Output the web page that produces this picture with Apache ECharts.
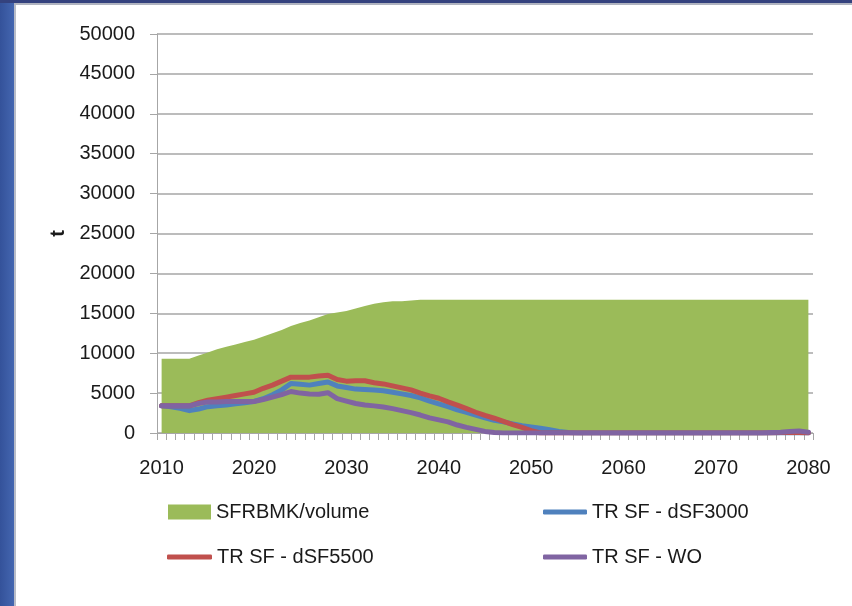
<!DOCTYPE html>
<html>
<head>
<meta charset="utf-8">
<script src="https://cdn.jsdelivr.net/npm/echarts@6/dist/echarts.min.js"></script>
<style>
  html, body { margin: 0; padding: 0; background: #ffffff; }
  #chart { width: 852px; height: 606px; }
</style>
</head>
<body>
<div id="chart"></div>
<script>
// Years on the category axis
const years = [];
for (let y = 2010; y <= 2080; y++) years.push(String(y));

// Stored spent fuel volume (t)
const sfrbmkVolume = [
  9300, 9300, 9300, 9300, 9700, 10100, 10500, 10800, 11100, 11400,
  11700, 12100, 12500, 12900, 13400, 13800, 14100, 14500, 14900, 15100,
  15300, 15600, 15900, 16200, 16400, 16500, 16500, 16600, 16700, 16700,
  16700, 16700, 16700, 16700, 16700, 16700, 16700, 16700, 16700, 16700,
  16700, 16700, 16700, 16700, 16700, 16700, 16700, 16700, 16700, 16700,
  16700, 16700, 16700, 16700, 16700, 16700, 16700, 16700, 16700, 16700,
  16700, 16700, 16700, 16700, 16700, 16700, 16700, 16700, 16700, 16700,
  16700
];

// TR SF - dSF3000
const trDsf3000 = [
  3400, 3300, 3100, 2800, 3000, 3300, 3400, 3500, 3650, 3800,
  3950, 4300, 4800, 5400, 6200, 6100, 6000, 6200, 6400, 5900,
  5700, 5500, 5450, 5400, 5300, 5100, 4900, 4700, 4400, 4000,
  3650, 3300, 2900, 2600, 2250, 1900, 1600, 1400, 1150, 900,
  750, 600, 400, 200, 50, 0, 0, 0, 0, 0,
  0, 0, 0, 0, 0, 0, 0, 0, 0, 0,
  0, 0, 0, 0, 0, 0, 0, 0, 0, 0,
  0
];

// TR SF - dSF5500
const trDsf5500 = [
  3400, 3400, 3400, 3400, 3800, 4100, 4300, 4500, 4700, 4900,
  5100, 5600, 6000, 6500, 7000, 7000, 7000, 7150, 7250, 6700,
  6500, 6550, 6550, 6300, 6150, 5900, 5650, 5400, 5000, 4650,
  4350, 3900, 3500, 3050, 2600, 2200, 1850, 1450, 1050, 700,
  300, 0, 0, 0, 0, 0, 0, 0, 0, 0,
  0, 0, 0, 0, 0, 0, 0, 0, 0, 0,
  0, 0, 0, 0, 0, 0, 0, 50, 50, 50,
  0
];

// TR SF - WO
const trWo = [
  3400, 3400, 3400, 3400, 3700, 3900, 3900, 3950, 3950, 3950,
  3950, 4200, 4500, 4800, 5200, 5000, 4900, 4850, 5050, 4300,
  4000, 3700, 3500, 3400, 3250, 3050, 2800, 2550, 2250, 1900,
  1650, 1400, 1000, 700, 450, 200, 50, 0, 0, 0,
  0, 0, 0, 0, 0, 0, 0, 0, 0, 0,
  0, 0, 0, 0, 0, 0, 0, 0, 0, 0,
  0, 0, 0, 0, 0, 0, 50, 100, 200, 250,
  100
];

// Value axis ticks
const yMin = 0, yMax = 50000, yStep = 5000;

const FONT = '"Liberation Sans", Arial, sans-serif';
const TEXT = '#1a1a1a';
const GRID = '#a6a6a6';
const FS = 20;

const chart = echarts.init(document.getElementById('chart'), null, { renderer: 'canvas' });

const legendText = { fontFamily: FONT, fontSize: FS, color: TEXT };

chart.setOption({
  animation: false,
  backgroundColor: '#ffffff',
  graphic: [
    // slide frame: blue strip on the left and bar along the top
    { type: 'rect', shape: { x: 0, y: 0, width: 14, height: 606 },
      style: { fill: new echarts.graphic.LinearGradient(0, 0, 1, 0, [
        { offset: 0, color: '#34529a' }, { offset: 1, color: '#4466b0' }]) }, z: 10 },
    { type: 'rect', shape: { x: 14, y: 0, width: 2, height: 606 }, style: { fill: '#b8bcc8' }, z: 10 },
    { type: 'rect', shape: { x: 0, y: 0, width: 852, height: 3 }, style: { fill: '#34427e' }, z: 10 },
    { type: 'rect', shape: { x: 14, y: 3, width: 838, height: 2 }, style: { fill: '#b0b4c0' }, z: 10 }
  ],
  grid: { left: 157, right: 39, top: 34, bottom: 173, containLabel: false },
  legend: [
    { data: [{ name: 'SFRBMK/volume', icon: 'rect' }], left: 168, top: 502,
      itemWidth: 43, itemHeight: 15, itemGap: 0, padding: 0, textStyle: legendText },
    { data: [{ name: 'TR SF - dSF3000', icon: 'roundRect' }], left: 543, top: 502,
      itemWidth: 44, itemHeight: 5, padding: 0, textStyle: legendText },
    { data: [{ name: 'TR SF - dSF5500', icon: 'roundRect' }], left: 167, top: 547,
      itemWidth: 45, itemHeight: 5, padding: 0, textStyle: legendText },
    { data: [{ name: 'TR SF - WO', icon: 'roundRect' }], left: 543, top: 547,
      itemWidth: 44, itemHeight: 5, padding: 0, textStyle: legendText }
  ],
  xAxis: {
    type: 'category',
    data: years,
    boundaryGap: true,
    axisLine: { show: true, lineStyle: { color: GRID, width: 1 } },
    axisTick: { show: true, interval: 0, length: 7, lineStyle: { color: GRID } },
    axisLabel: {
      interval: 9, margin: 25,
      fontFamily: FONT, fontSize: FS, color: TEXT
    },
    splitLine: { show: false }
  },
  yAxis: {
    type: 'value',
    min: yMin, max: yMax, interval: yStep,
    name: 't',
    nameLocation: 'middle',
    nameRotate: 90,
    nameGap: 86,
    nameTextStyle: { fontFamily: FONT, fontSize: 20, fontWeight: 'bold', color: TEXT },
    axisLine: { show: true, lineStyle: { color: GRID, width: 1 } },
    axisTick: { show: true, inside: false, length: 7, lineStyle: { color: GRID } },
    axisLabel: {
      margin: 22, fontFamily: FONT, fontSize: FS, color: TEXT,
      formatter: v => String(v)
    },
    splitLine: { show: true, lineStyle: { color: GRID, width: 1.5 } }
  },
  series: [
    {
      name: 'SFRBMK/volume', type: 'line', data: sfrbmkVolume,
      symbol: 'none', color: '#9bbb59',
      lineStyle: { width: 0, color: '#9bbb59' },
      areaStyle: { color: '#9bbb59', opacity: 1 },
      z: 1
    },
    {
      name: 'TR SF - dSF3000', type: 'line', data: trDsf3000,
      symbol: 'none', color: '#4f81bd',
      lineStyle: { width: 5, color: '#4f81bd', cap: 'round', join: 'round' },
      z: 2
    },
    {
      name: 'TR SF - dSF5500', type: 'line', data: trDsf5500,
      symbol: 'none', color: '#c0504d',
      lineStyle: { width: 5, color: '#c0504d', cap: 'round', join: 'round' },
      z: 3
    },
    {
      name: 'TR SF - WO', type: 'line', data: trWo,
      symbol: 'none', color: '#8064a2',
      lineStyle: { width: 5, color: '#8064a2', cap: 'round', join: 'round' },
      z: 4
    }
  ]
});
</script>
</body>
</html>
